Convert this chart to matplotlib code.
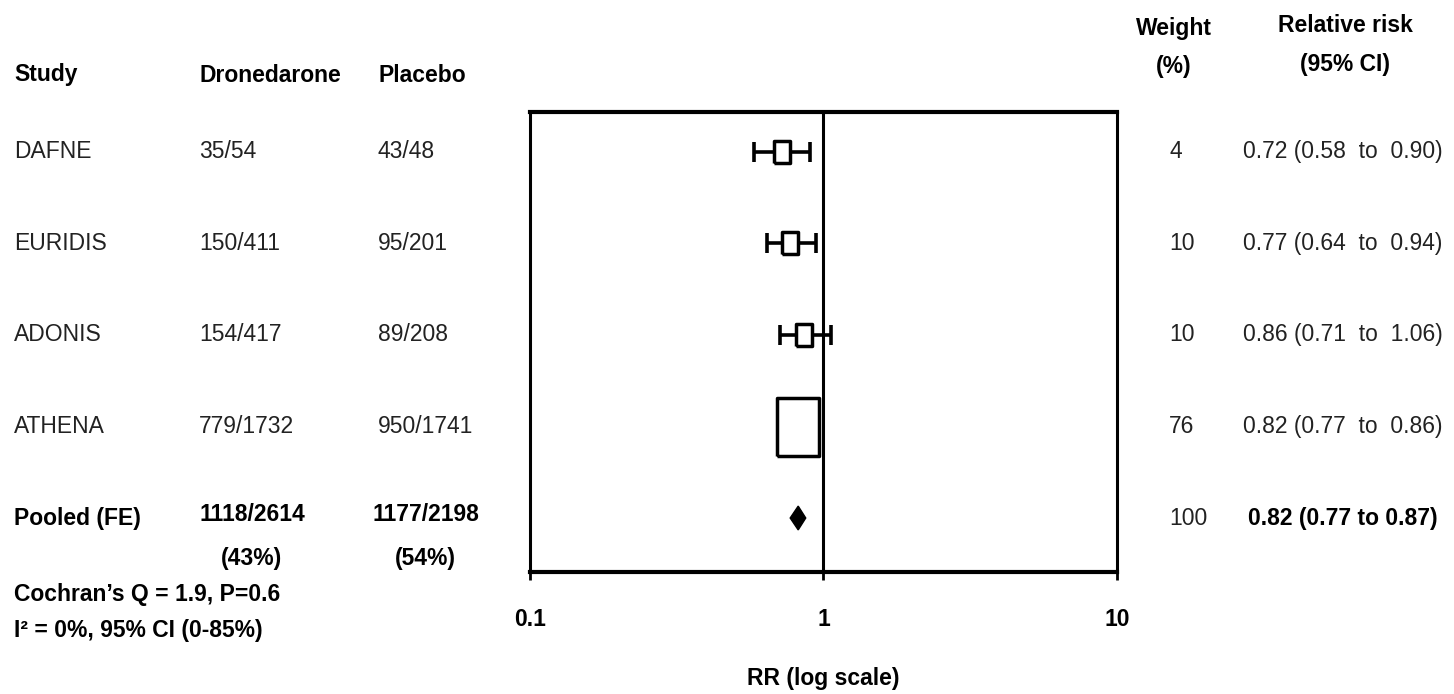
import matplotlib
matplotlib.use('Agg')
import matplotlib.pyplot as plt
import matplotlib.transforms as mtransforms
from matplotlib import font_manager
from matplotlib.ticker import NullLocator
import numpy as np

# trial data
studies = ['DAFNE', 'EURIDIS', 'ADONIS', 'ATHENA']
drone_events = ['35/54', '150/411', '154/417', '779/1732']
placebo_events = ['43/48', '95/201', '89/208', '950/1741']
rr = [0.72, 0.77, 0.86, 0.82]
ci_low = [0.58, 0.64, 0.71, 0.77]
ci_high = [0.90, 0.94, 1.06, 0.86]
weights = [4, 10, 10, 76]

pooled_label = 'Pooled (FE)'
pooled_drone = '1118/2614\n(43%)'
pooled_placebo = '1177/2198\n(54%)'
pooled_rr, pooled_low, pooled_high = 0.82, 0.77, 0.87
pooled_weight = 100

het_lines = ['Cochran\u2019s Q = 1.9, P=0.6', 'I\u00b2 = 0%, 95% CI (0-85%)']
x_ticks = [0.1, 1, 10]
x_ticklabels = ['0.1', '1', '10']

# box heights in pixels (style)
box_h_px = [23, 23, 23, 58]

W, H = 1454, 694
names = {f.name for f in font_manager.fontManager.ttflist}
if 'Liberation Sans Narrow' in names:
    plt.rcParams['font.family'] = ['Liberation Sans Narrow', 'DejaVu Sans']
    fs = 19.5
else:
    plt.rcParams['font.family'] = ['Liberation Sans', 'DejaVu Sans']
    fs = 16.5
plt.rcParams['font.size'] = fs
txt_color = '#222222'


def fx(px):
    return px / W


def fy(py):
    return 1 - py / H


fig = plt.figure(figsize=(W / 100, H / 100), dpi=100)
ax = fig.add_axes([fx(530), fy(572), 587 / W, 460 / H])
ax.set_xscale('log')
ax.set_xlim(0.1, 10)
ax.set_ylim(4.59, -0.437)
ax.xaxis.set_minor_locator(NullLocator())
ax.set_xticks(x_ticks)
ax.set_xticklabels(x_ticklabels, fontweight='bold')
ax.set_yticks([])
ax.tick_params(axis='x', direction='out', length=6, width=2, pad=20)
for side in ['top', 'bottom']:
    ax.spines[side].set_linewidth(3)
for side in ['left', 'right']:
    ax.spines[side].set_linewidth(2.2)
ax.set_xlabel('RR (log scale)', fontweight='bold', labelpad=26)

rows = np.arange(len(studies) + 1)

ax.axvline(1, color='k', lw=2.2, zorder=2)
ax.errorbar(rr, rows[:4], xerr=[np.subtract(rr, ci_low), np.subtract(ci_high, rr)],
            fmt='none', ecolor='k', elinewidth=2.6, capsize=7, capthick=2.6, zorder=3)

box = [(-0.72, -1), (0.72, -1), (0.72, 1), (-0.72, 1), (-0.72, -1)]
for i in range(len(studies)):
    ax.plot(rr[i], rows[i], marker=box, markersize=box_h_px[i] * 0.72,
            mfc='white', mec='k', mew=2.5, zorder=4)

h = 0.13
y4 = rows[4]
ax.fill([pooled_low, pooled_rr, pooled_high, pooled_rr], [y4, y4 - h, y4, y4 + h],
        color='k', zorder=4)

# table text
row_tr = mtransforms.blended_transform_factory(fig.transFigure, ax.transData)

fig.text(fx(14), fy(75), 'Study', fontweight='bold', va='center')
fig.text(fx(199), fy(75), 'Dronedarone', fontweight='bold', va='center')
fig.text(fx(378), fy(75), 'Placebo', fontweight='bold', va='center')
fig.text(fx(1174), fy(28), 'Weight', fontweight='bold', va='center', ha='center')
fig.text(fx(1174), fy(67), '(%)', fontweight='bold', va='center', ha='center')
fig.text(fx(1345), fy(25), 'Relative risk', fontweight='bold', va='center', ha='center')
fig.text(fx(1345), fy(65), '(95% CI)', fontweight='bold', va='center', ha='center')

for i in range(len(studies)):
    y = rows[i]
    kw = dict(transform=row_tr, va='center', color=txt_color)
    ax.text(fx(14), y, studies[i], **kw)
    ax.text(fx(199), y, drone_events[i], **kw)
    ax.text(fx(378), y, placebo_events[i], **kw)
    ax.text(fx(1169), y, str(weights[i]), **kw)
    ax.text(fx(1243), y, f'{rr[i]:.2f} ({ci_low[i]:.2f}  to  {ci_high[i]:.2f})', **kw)

ax.text(fx(14), y4, pooled_label, transform=row_tr, va='center', fontweight='bold')
fig.text(fx(199), fy(503), pooled_drone, va='top', fontweight='bold',
         multialignment='center', linespacing=2.15)
fig.text(fx(372), fy(503), pooled_placebo, va='top', fontweight='bold',
         multialignment='center', linespacing=2.15)
ax.text(fx(1169), y4, str(pooled_weight), transform=row_tr, va='center', color=txt_color)
ax.text(fx(1248), y4, f'{pooled_rr:.2f} ({pooled_low:.2f} to {pooled_high:.2f})',
        transform=row_tr, va='center', fontweight='bold')

fig.text(fx(14), fy(595), het_lines[0], fontweight='bold', va='center')
fig.text(fx(14), fy(630), het_lines[1], fontweight='bold', va='center')

fig.savefig('out.png', dpi=100)
